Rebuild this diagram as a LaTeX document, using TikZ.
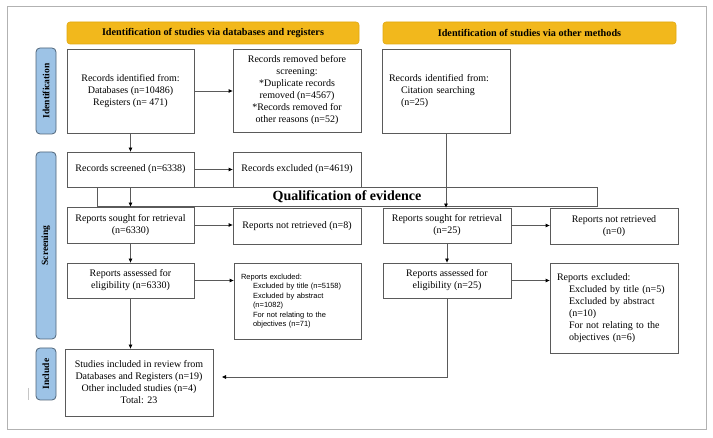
\documentclass[tikz,border=0pt]{standalone}
\usepackage{fontspec}
\setmainfont{Liberation Serif}
\newfontfamily\arialf{Liberation Sans}
\usetikzlibrary{arrows.meta}
\definecolor{hdr}{HTML}{F2B81C}
\definecolor{hdrline}{HTML}{E0A810}
\definecolor{side}{HTML}{9DC3E6}
\definecolor{sideline}{HTML}{4F6478}
\definecolor{ln}{HTML}{5A5A5A}
\begin{document}
\begin{tikzpicture}[x=1pt,y=-1pt,
  box/.style={draw=ln, line width=0.8pt, fill=white, inner sep=0pt, align=center,
    font=\fontsize{10}{12}\selectfont},
  leftbox/.style={box, align=left, text width=#1},
  hdrbox/.style={draw=hdrline, fill=hdr, rounded corners=3pt, line width=0.6pt,
    minimum height=22pt, inner sep=0pt, font=\bfseries\fontsize{10.2}{12}\selectfont},
  sidebox/.style={draw=sideline, fill=side, rounded corners=4pt, line width=0.8pt,
    rotate=90, minimum height=20pt, inner sep=0pt, font=\bfseries\fontsize{9.5}{11}\selectfont},
  conn/.style={draw=ln, line width=0.8pt, -{Triangle[length=4pt,width=3.5pt,fill=black,color=black]}},
]
\useasboundingbox (0,0) rectangle (713,438);
\draw[gray!60, line width=1pt] (7,7) rectangle (706,430);
\draw[gray!45, line width=0.8pt] (28,388) -- (28,400);

% headers
\node[hdrbox, minimum width=292pt] (h1) at (213,33) {Identification of studies via databases and registers};
\node[hdrbox, minimum width=293pt] (h2) at (529.5,33) {Identification of studies via other methods};

% side labels
\node[sidebox, minimum width=86pt] (s1) at (46,91) {Identification};
\node[sidebox, minimum width=187pt] (s2) at (46,245.5) {Screening};
\node[sidebox, minimum width=52pt] (s3) at (46,374) {Include};

% left column
\node[box, minimum width=127pt, minimum height=84pt] (A) at (130.5,91)
  {Records identified from:\\Databases (n=10486)\\Registers (n= 471)};
\node[box, minimum width=128pt, minimum height=83pt] (B) at (297,90.5)
  {Records removed before\\screening:\\*Duplicate records\\removed (n=4567)\\*Records removed for\\other reasons (n=52)};
\node[box, minimum width=127pt, minimum height=35pt] (D) at (130.5,169.5)
  {Records screened (n=6338)};
\node[box, minimum width=128pt, minimum height=35pt] (E) at (297,169.5)
  {Records excluded (n=4619)};

% qualification box
\node[draw=ln, line width=0.8pt, minimum width=500pt, minimum height=19pt, inner sep=0pt,
  font=\bfseries\fontsize{14}{16}\selectfont] (Q) at (347,196.5) {Qualification of evidence};

\node[box, minimum width=127pt, minimum height=36pt] (F) at (130.5,225)
  {Reports sought for retrieval\\(n=6330)};
\node[box, minimum width=128pt, minimum height=36pt] (G) at (297,226)
  {Reports not retrieved (n=8)};
\node[box, minimum width=127pt, minimum height=35pt] (H) at (130.5,280.5)
  {Reports assessed for\\eligibility (n=6330)};
\node[leftbox=113pt, minimum width=127pt, minimum height=76pt,
  font=\arialf\fontsize{7.5}{9.5}\selectfont] (I) at (297.5,301)
  {Reports excluded:\\\hspace*{12pt}Excluded by title (n=5158)\\\hspace*{12pt}Excluded by abstract\\\hspace*{12pt}(n=1082)\\\hspace*{12pt}For not relating to the\\\hspace*{12pt}objectives (n=71)};
\node[box, minimum width=148pt, minimum height=67pt] (J) at (139,382.5)
  {Studies included in review from\\Databases and Registers (n=19)\\Other included studies (n=4)\\Total: 23};

% right column
\node[leftbox=114pt, minimum width=128pt, minimum height=84pt] (C) at (446,91)
  {Records identified from:\\\hspace*{12pt}Citation searching\\\hspace*{12pt}(n=25)};
\node[box, minimum width=128pt, minimum height=35pt] (K) at (447,225.5)
  {Reports sought for retrieval\\(n=25)};
\node[box, minimum width=128pt, minimum height=36pt] (L) at (614,226)
  {Reports not retrieved\\(n=0)};
\node[box, minimum width=128pt, minimum height=35pt] (M) at (447,280.5)
  {Reports assessed for\\eligibility (n=25)};
\node[leftbox=114pt, minimum width=128pt, minimum height=90pt] (N) at (614,308)
  {Reports excluded:\\\hspace*{12pt}Excluded by title (n=5)\\\hspace*{12pt}Excluded by abstract\\\hspace*{12pt}(n=10)\\\hspace*{12pt}For not relating to the\\\hspace*{12pt}objectives (n=6)};

\coordinate (jin) at (222,377);

% connectors
\draw[conn] (A.east) -- (A.east -| B.west);
\draw[conn] (A.south) -- (D.north);
\draw[conn] (D.east) -- (D.east -| E.west);
\draw[conn] (D.south) -- (F.north);
\draw[conn] (F.east) -- (F.east -| G.west);
\draw[conn] (F.south) -- (H.north);
\draw[conn] (H.east) -- (H.east -| I.west);
\draw[conn] (H.south) -- (H.south |- J.north);
\draw[conn] (C.south) -- (C.south |- K.north);
\draw[conn] (K.east) -- (K.east -| L.west);
\draw[conn] (K.south) -- (M.north);
\draw[conn] (M.east) -- (M.east -| N.west);
\draw[conn] (M.south) |- (jin);
\end{tikzpicture}
\end{document}
